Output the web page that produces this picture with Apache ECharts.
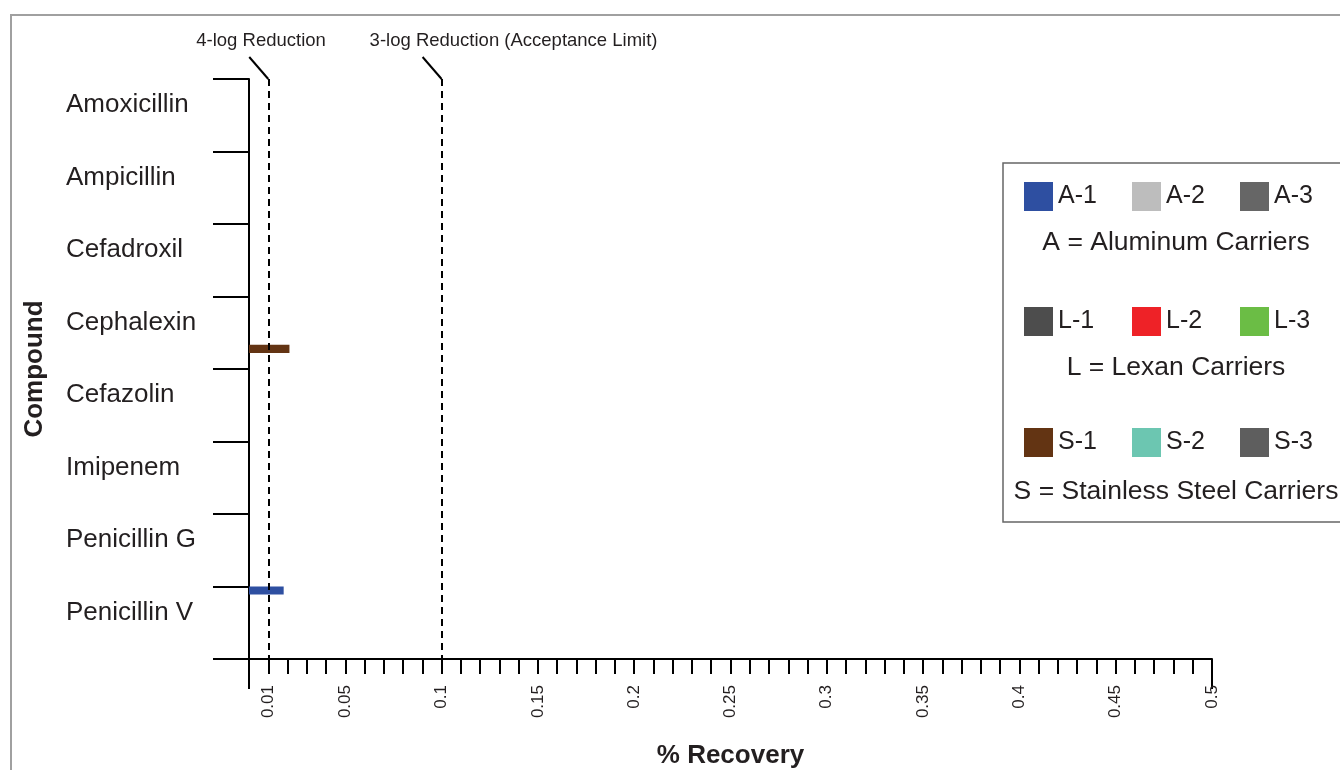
<!DOCTYPE html>
<html>
<head>
<meta charset="utf-8">
<script src="https://cdn.jsdelivr.net/npm/echarts@6/dist/echarts.min.js"></script>
<style>
  html, body { margin: 0; padding: 0; background: #fff; }
  #main { width: 1340px; height: 770px; }
</style>
</head>
<body>
<div id="main"></div>
<script>
const compounds = ['Amoxicillin', 'Ampicillin', 'Cefadroxil', 'Cephalexin', 'Cefazolin', 'Imipenem', 'Penicillin G', 'Penicillin V'];
const carriers = ['A-1', 'A-2', 'A-3', 'L-1', 'L-2', 'L-3', 'S-1', 'S-2', 'S-3'];
const carrierColors = ['#2e4fa1', '#bdbdbd', '#666666', '#4d4d4d', '#ee2227', '#6bbd45', '#633413', '#6cc6b1', '#5e5e5e'];
// % recovery per carrier, one value per compound (top to bottom)
const recA1 = [0, 0, 0, 0, 0, 0, 0, 0.018];
const recA2 = [0, 0, 0, 0, 0, 0, 0, 0];
const recA3 = [0, 0, 0, 0, 0, 0, 0, 0];
const recL1 = [0, 0, 0, 0, 0, 0, 0, 0];
const recL2 = [0, 0, 0, 0, 0, 0, 0, 0];
const recL3 = [0, 0, 0, 0, 0, 0, 0, 0];
const recS1 = [0, 0, 0, 0.021, 0, 0, 0, 0];
const recS2 = [0, 0, 0, 0, 0, 0, 0, 0];
const recS3 = [0, 0, 0, 0, 0, 0, 0, 0];
const recovery = [recA1, recA2, recA3, recL1, recL2, recL3, recS1, recS2, recS3];
// reference limits
const limitValues = [0.01, 0.1];
const limitNames = ['4-log Reduction', '3-log Reduction (Acceptance Limit)'];
const groupNotes = ['A = Aluminum Carriers', 'L = Lexan Carriers', 'S = Stainless Steel Carriers'];

const txt = '#231f20';
const font = 'Liberation Sans, Arial, sans-serif';

const chart = echarts.init(document.getElementById('main'));

let series = carriers.map(function (name, i) {
  let s = {
    name: name,
    type: 'bar',
    data: recovery[i],
    itemStyle: { color: carrierColors[i] },
    barGap: '0%',
    barCategoryGap: '0%',
    animation: false
  };
  if (i === 0) {
    s.markLine = {
      silent: true,
      symbol: 'none',
      label: { show: false },
      lineStyle: { color: '#000', width: 2, type: [7, 5] },
      data: limitValues.map(function (v) { return { xAxis: v }; })
    };
  }
  return s;
});

// legend: 3 x 3 grid, one legend per cell so the columns line up
const legendTops = [182, 307, 428];
let legends = carriers.map(function (name, i) {
  return {
    left: 1024 + (i % 3) * 108,
    top: legendTops[Math.floor(i / 3)],
    padding: 0,
    itemWidth: 29,
    itemHeight: 29,
    icon: 'rect',
    selectedMode: false,
    textStyle: { fontSize: 25, color: txt, fontFamily: font },
    data: [name]
  };
});

chart.setOption({
  animation: false,
  textStyle: { fontFamily: font },
  grid: { left: 249, right: 128, top: 79, bottom: 111, containLabel: false, outerBoundsMode: 'none' },
  legend: legends,
  xAxis: {
    type: 'value',
    min: 0,
    max: 0.5,
    interval: 0.01,
    name: '% Recovery',
    nameLocation: 'middle',
    nameGap: 84,
    nameTextStyle: { fontSize: 26, fontWeight: 'bold', color: txt },
    axisLine: { show: true, onZero: false, lineStyle: { color: '#000', width: 2 } },
    axisTick: { show: true, length: 15, lineStyle: { color: '#000', width: 2 } },
    splitLine: { show: false },
    axisLabel: {
      rotate: 90,
      margin: 26,
      fontSize: 17,
      color: txt,
      showMinLabel: true,
      showMaxLabel: true,
      formatter: function (v) {
        let n = Math.round(v * 100);
        if (n === 1 || (n > 0 && n % 5 === 0)) return String(n / 100);
        return '';
      }
    }
  },
  yAxis: {
    type: 'category',
    inverse: true,
    data: compounds,
    name: 'Compound',
    nameLocation: 'middle',
    nameGap: 201,
    nameRotate: 90,
    nameTextStyle: { fontSize: 26, fontWeight: 'bold', color: txt },
    axisLine: { show: true, lineStyle: { color: '#000', width: 2 } },
    axisTick: { show: true, length: 36, lineStyle: { color: '#000', width: 2 } },
    axisLabel: {
      interval: 0,
      align: 'left',
      verticalAlign: 'bottom',
      lineHeight: 20,
      margin: 183,
      fontSize: 26,
      color: txt
    }
  },
  series: series
});

// leader lines, limit labels, legend box and notes
const gridTop = 79;
const gridBottom = 659;
let graphics = [
  {
    type: 'rect', silent: true, z: -1,
    shape: { x: 11, y: 15, width: 1340, height: 770 },
    style: { fill: 'none', stroke: '#a0a0a0', lineWidth: 2 }
  },
  {
    type: 'rect', silent: true,
    shape: { x: 1003, y: 163, width: 340, height: 359 },
    style: { fill: 'none', stroke: '#666', lineWidth: 1.5 }
  }
];
limitValues.forEach(function (v, i) {
  let px = chart.convertToPixel({ xAxisIndex: 0 }, v);
  graphics.push({
    type: 'polyline', silent: true,
    shape: { points: [[px, gridTop], [px - 19, gridTop - 22]] },
    style: { stroke: '#000', lineWidth: 2, fill: 'none' }
  });
  graphics.push({
    type: 'text', silent: true,
    x: px - 72, y: 41,
    style: { text: limitNames[i], fontSize: 18.5, fill: txt, fontFamily: font, verticalAlign: 'middle' }
  });
});
// longer ticks at both ends of the x axis
[0, 0.5].forEach(function (v) {
  let px = chart.convertToPixel({ xAxisIndex: 0 }, v);
  graphics.push({
    type: 'line', silent: true,
    shape: { x1: px, y1: gridBottom, x2: px, y2: gridBottom + 30 },
    style: { stroke: '#000', lineWidth: 2 }
  });
});
const noteY = [243, 368, 492];
groupNotes.forEach(function (t, i) {
  graphics.push({
    type: 'text', silent: true,
    x: 1176, y: noteY[i],
    style: { text: t, fontSize: 26.5, fill: txt, fontFamily: font, align: 'center', verticalAlign: 'middle' }
  });
});

chart.setOption({ graphic: graphics });
</script>
</body>
</html>
